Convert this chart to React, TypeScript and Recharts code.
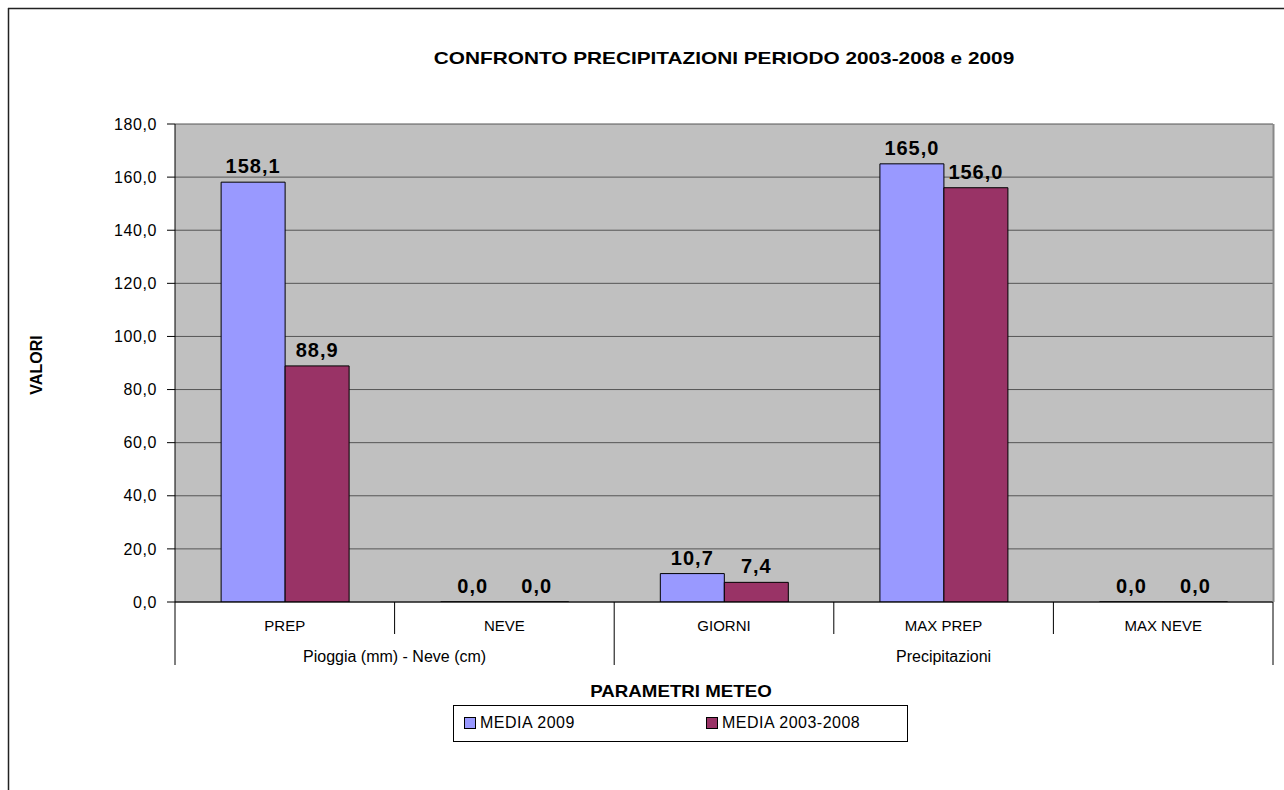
import { Bar, BarChart, CartesianGrid, LabelList, XAxis, YAxis } from "recharts";

const CATEGORIES = ["PREP", "NEVE", "GIORNI", "MAX PREP", "MAX NEVE"];
const MEDIA_2009 = [158.1, 0, 10.7, 165.0, 0];
const MEDIA_2003_2008 = [88.9, 0, 7.4, 156.0, 0];
const GROUPS = [
	{ label: "Pioggia (mm) - Neve (cm)", span: 2 },
	{ label: "Precipitazioni", span: 3 },
];
const Y_TICKS = [0, 20, 40, 60, 80, 100, 120, 140, 160, 180];

const SERIES = [
	{ key: "m2009", name: "MEDIA 2009", color: "#9999FF" },
	{ key: "m0308", name: "MEDIA 2003-2008", color: "#993366" },
];

const FONT = "'Liberation Sans', Arial, sans-serif";
const W = 1284;
const H = 790;

const data = CATEGORIES.map((c, i) => ({
	cat: c,
	m2009: MEDIA_2009[i],
	m0308: MEDIA_2003_2008[i],
}));

const fmt = (v: number) => v.toFixed(1).replace(".", ",");

// start / end index of each group, used by the tick renderer
const groupStarts: Record<number, { label: string; span: number }> = {};
const groupEnds = new Set<number>();
{
	let s = 0;
	for (const g of GROUPS) {
		groupStarts[s] = g;
		s += g.span;
		groupEnds.add(s - 1);
	}
}

function CategoryTick(props: any) {
	const { x, y, payload, width } = props;
	const i: number = payload.index;
	const half: number = payload.offset || width / CATEGORIES.length / 2;
	const group = groupStarts[i];
	const rightLong = groupEnds.has(i);
	return (
		<g>
			<text x={x} y={y + 29} textAnchor="middle" fontSize={15} fontFamily={FONT} fill="#000">
				{payload.value}
			</text>
			{i === 0 ? <line x1={x - half} x2={x - half} y1={y} y2={y + 63} stroke="#000" /> : null}
			<line x1={x + half} x2={x + half} y1={y} y2={y + (rightLong ? 63 : 32)} stroke="#000" />
			{group ? (
				<text
					x={x + (group.span - 1) * half}
					y={y + 60}
					textAnchor="middle"
					fontSize={16}
					fontFamily={FONT}
					fill="#000"
				>
					{group.label}
				</text>
			) : null}
		</g>
	);
}

export default function App() {
	return (
		<div
			style={{
				position: "absolute",
				left: 0,
				top: 0,
				width: W,
				height: H,
				background: "#fff",
				fontFamily: FONT,
			}}
		>
			<BarChart
				width={W}
				height={H}
				data={data}
				margin={{ top: 124, right: 11, bottom: 125, left: 75 }}
				barCategoryGap="21%"
				barGap={0}
			>
				<CartesianGrid vertical={false} fill="#C0C0C0" stroke="#555" fillOpacity={1} />
				<XAxis
					dataKey="cat"
					height={63}
					tickLine={false}
					tickSize={0}
					tickMargin={0}
					axisLine={{ stroke: "#000" }}
					tick={<CategoryTick />}
					interval={0}
				/>
				<YAxis
					width={100}
					domain={[0, 180]}
					ticks={Y_TICKS}
					tickFormatter={fmt}
					axisLine={{ stroke: "#000" }}
					tickLine={{ stroke: "#000" }}
					tickSize={8}
					tickMargin={10}
					tick={{ fontSize: 16, fill: "#000", fontFamily: FONT, letterSpacing: 0.6 }}
					allowDataOverflow
				/>
				{SERIES.map((s) => (
					<Bar
						key={s.key}
						dataKey={s.key}
						name={s.name}
						fill={s.color}
						stroke="#000"
						strokeWidth={1}
						minPointSize={(v: number) => (v === 0 ? 0.01 : 0)}
						isAnimationActive={false}
					>
						<LabelList
							dataKey={s.key}
							position="top"
							offset={9}
							formatter={(v: any) => fmt(Number(v))}
							style={{ fontSize: 20, fontWeight: 700, fill: "#000", fontFamily: FONT, letterSpacing: 1 }}
						/>
					</Bar>
				))}
			</BarChart>

			<svg width={W} height={H} style={{ position: "absolute", left: 0, top: 0, pointerEvents: "none" }}>
				<line x1={8.5} x2={8.5} y1={8} y2={H} stroke="#222" strokeWidth={1.5} />
				<line x1={8} x2={W} y1={8.5} y2={8.5} stroke="#222" strokeWidth={1.5} />
				<line x1={1273.5} x2={1273.5} y1={124} y2={602} stroke="#888" strokeWidth={2} />
				<text
					transform="translate(724 64) scale(1.3 1)"
					textAnchor="middle"
					fontSize={16}
					fontWeight={700}
					fontFamily={FONT}
					fill="#000"
				>
					CONFRONTO PRECIPITAZIONI PERIODO 2003-2008 e 2009
				</text>
				<text
					transform="translate(42 365) rotate(-90)"
					textAnchor="middle"
					fontSize={16}
					fontWeight={700}
					fontFamily={FONT}
					fill="#000"
				>
					VALORI
				</text>
				<text
					transform="translate(681 697) scale(1.17 1)"
					textAnchor="middle"
					fontSize={16}
					fontWeight={700}
					fontFamily={FONT}
					fill="#000"
				>
					PARAMETRI METEO
				</text>
			</svg>

			<div
				style={{
					position: "absolute",
					left: 453,
					top: 705,
					width: 455,
					height: 37,
					boxSizing: "border-box",
					border: "1px solid #000",
					fontSize: 16,
					letterSpacing: 0.5,
				}}
			>
				{SERIES.map((s, i) => (
					<div
						key={s.key}
						style={{
							position: "absolute",
							left: i === 0 ? 10 : 252,
							top: 8,
							display: "flex",
							alignItems: "center",
							gap: 4,
						}}
					>
						<span
							style={{
								width: 10,
								height: 10,
								background: s.color,
								border: "1px solid #000",
								display: "inline-block",
							}}
						/>
						<span>{s.name}</span>
					</div>
				))}
			</div>
		</div>
	);
}
